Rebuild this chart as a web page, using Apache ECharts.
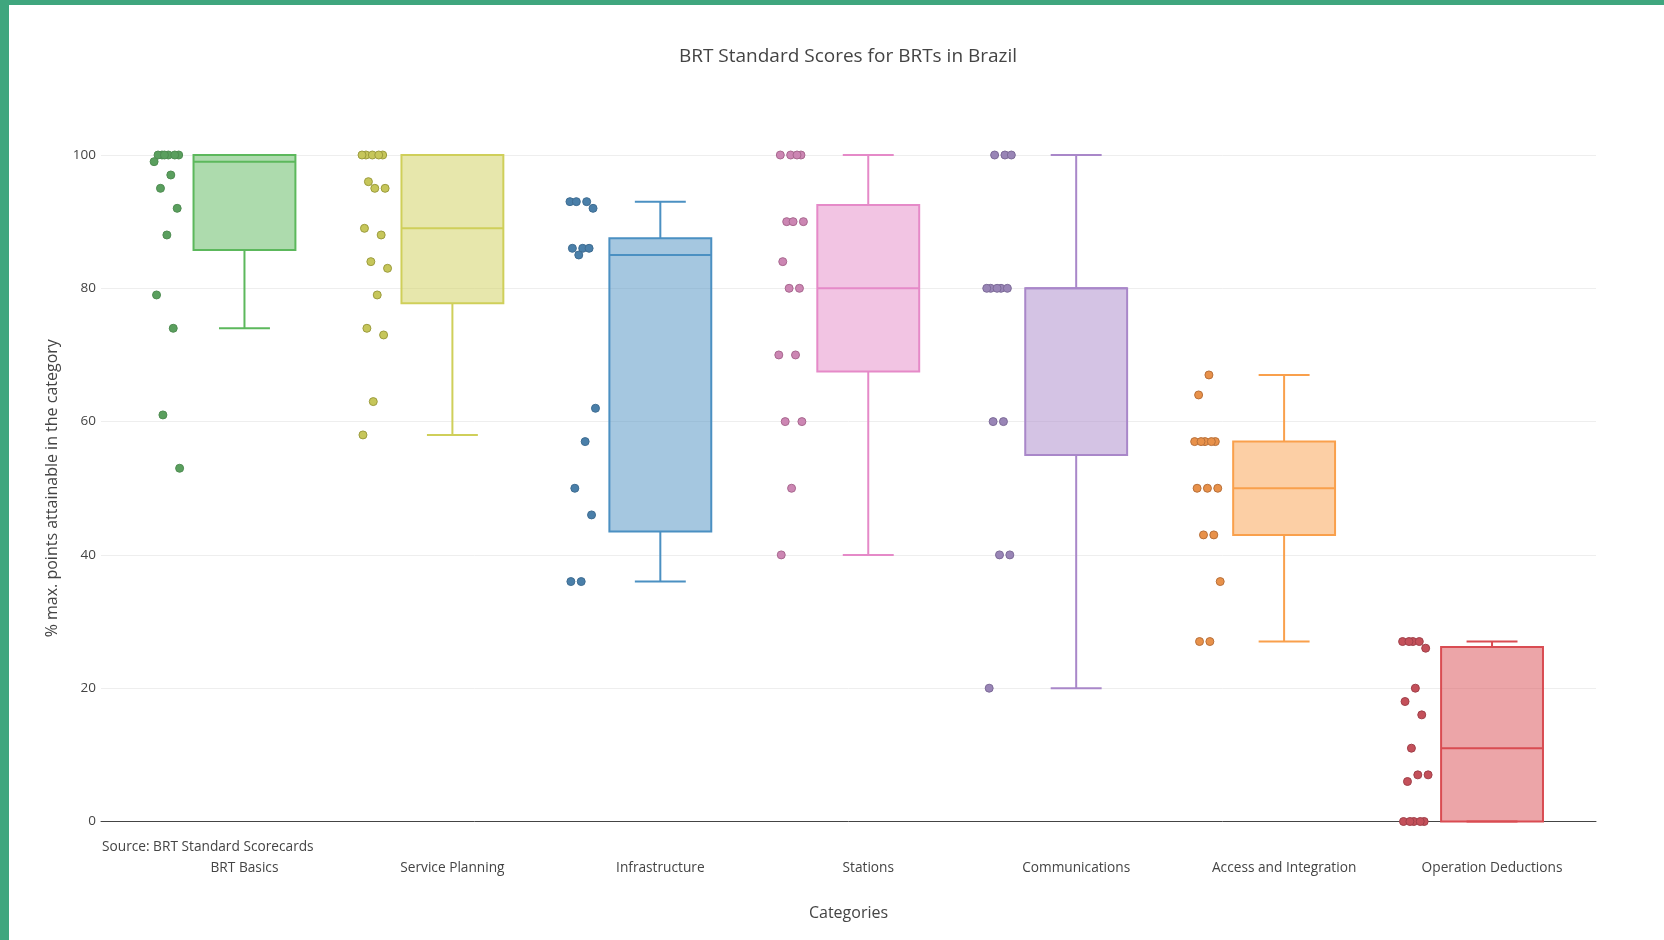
<!DOCTYPE html>
<html>
<head>
<meta charset="utf-8">
<title>BRT Standard Scores for BRTs in Brazil</title>
<script src="https://cdn.jsdelivr.net/npm/echarts@6/dist/echarts.min.js"></script>
<style>
  html, body { margin: 0; padding: 0; background: #fff; }
  #chart { width: 1664px; height: 940px; }
</style>
</head>
<body>
<div id="chart"></div>
<script>
// Scorecard categories
const categories = [
  'BRT Basics', 'Service Planning', 'Infrastructure', 'Stations',
  'Communications', 'Access and Integration', 'Operation Deductions'
];

// Individual corridor scores (% of max. points) per category
const brtBasics = [100, 100, 100, 100, 100, 100, 99, 97, 95, 92, 88, 79, 74, 61, 53];
const servicePlanning = [100, 100, 100, 100, 100, 96, 95, 95, 89, 88, 84, 83, 79, 74, 73, 63, 58];
const infrastructure = [93, 93, 93, 92, 86, 86, 86, 85, 62, 57, 50, 46, 36, 36];
const stations = [100, 100, 100, 100, 90, 90, 90, 84, 80, 80, 70, 70, 60, 60, 50, 40];
const communications = [100, 100, 100, 80, 80, 80, 80, 80, 60, 60, 40, 40, 20];
const accessIntegration = [67, 64, 57, 57, 57, 57, 57, 50, 50, 50, 43, 43, 36, 27, 27];
const operationDeductions = [27, 27, 27, 27, 26, 20, 18, 16, 11, 7, 7, 6, 0, 0, 0, 0, 0];

const pointSets = [brtBasics, servicePlanning, infrastructure, stations,
                   communications, accessIntegration, operationDeductions];

// Box statistics per category
const lowerFence = [74, 58, 36, 40, 20, 27, 0];
const q1 = [85.75, 77.75, 43.5, 67.5, 55, 43, 0];
const median = [99, 89, 85, 80, 80, 50, 11];
const q3 = [100, 100, 87.5, 92.5, 80, 57, 26.2];
const upperFence = [100, 100, 93, 100, 100, 67, 27];

// Y-axis ticks
const yTicks = [0, 20, 40, 60, 80, 100];

// Styling
const lineColors = ['#5cb85c', '#cfcf5a', '#4b90c2', '#e58ac8', '#a987c9', '#f9a04c', '#d94c52'];
const fillColors = ['rgba(92,184,92,0.5)', 'rgba(207,207,90,0.5)', 'rgba(75,144,194,0.5)',
                    'rgba(229,138,200,0.5)', 'rgba(169,135,201,0.5)', 'rgba(249,160,76,0.5)',
                    'rgba(217,76,82,0.5)'];
const dotColors = ['#5a9f5e', '#c6c65a', '#4a7fa9', '#cc86b3', '#9985b6', '#e8914a', '#c4505a'];
const dotBorders = ['#4f8c52', '#9c9c3e', '#3f6d92', '#a8688f', '#7d6b98', '#b8703a', '#a0404a'];

const BOX_W = 0.49;       // box width in category units
const POINT_POS = -0.372; // point cloud offset from box centre
const JITTER = 0.13;      // spread of point cloud

// Box data: [categoryIndex, lower, q1, median, q3, upper]
const boxData = categories.map((c, i) => [i, lowerFence[i], q1[i], median[i], q3[i], upperFence[i]]);

// Deterministic jitter for the point clouds
function jitterFor(k) {
  const f = (k * 0.6180339887 + 0.31) % 1;
  return (f - 0.5) * JITTER;
}

const scatterSeries = pointSets.map((vals, i) => ({
  type: 'scatter',
  name: categories[i],
  clip: false,
  z: 5,
  symbolSize: 8,
  itemStyle: { color: dotColors[i], borderColor: dotBorders[i], borderWidth: 1, opacity: 1 },
  data: vals.map((v, k) => [i + POINT_POS + jitterFor(k + i * 3), v])
}));

const chart = echarts.init(document.getElementById('chart'), null, { renderer: 'canvas' });

chart.setOption({
  animation: false,
  backgroundColor: '#ffffff',
  textStyle: { fontFamily: '"Open Sans", "Noto Sans", sans-serif' },
  title: {
    text: 'BRT Standard Scores for BRTs in Brazil',
    left: 843,
    top: 42,
    textAlign: 'center',
    textStyle: { fontSize: 19, fontWeight: 'normal', color: '#444', fontFamily: '"Open Sans", sans-serif' }
  },
  grid: { left: 101, right: 68, top: 155, bottom: 118.5, containLabel: false },
  xAxis: {
    type: 'value',
    min: -0.69,
    max: 6.5,
    name: 'Categories',
    nameLocation: 'middle',
    nameGap: 84,
    nameTextStyle: { fontSize: 16, color: '#444' },
    axisLine: { show: true, lineStyle: { color: '#444', width: 1 } },
    axisTick: { show: false },
    splitLine: { show: false },
    axisLabel: {
      customValues: categories.map((c, i) => i),
      formatter: v => categories[Math.round(v)] || '',
      color: '#444',
      fontSize: 13.7,
      margin: 40
    }
  },
  yAxis: {
    type: 'value',
    min: 0,
    max: 100,
    interval: 20,
    name: '% max. points attainable in the category',
    nameLocation: 'middle',
    nameGap: 41,
    nameTextStyle: { fontSize: 16, color: '#444' },
    axisLine: { show: false },
    axisTick: { show: false },
    splitLine: { show: true, lineStyle: { color: '#eeeeee', width: 1 } },
    axisLabel: {
      customValues: yTicks,
      color: '#444',
      fontSize: 13.5,
      margin: 5
    }
  },
  graphic: [
    { type: 'rect', left: 0, top: 0, shape: { width: 1664, height: 5 }, style: { fill: '#3fa67e' }, z: 100 },
    { type: 'rect', left: 0, top: 0, shape: { width: 9, height: 940 }, style: { fill: '#3fa67e' }, z: 100 },
    {
      type: 'text', left: 102, top: 840,
      style: { text: 'Source: BRT Standard Scorecards', fontSize: 13.7, fill: '#444', fontFamily: '"Open Sans", sans-serif' }
    }
  ],
  series: [
    {
      type: 'custom',
      name: 'boxes',
      z: 3,
      data: boxData,
      encode: { x: 0, y: [1, 2, 3, 4, 5] },
      renderItem: function (params, api) {
        const x = api.value(0);
        const idx = Math.round(x);
        const half = api.size([BOX_W, 0])[0] / 2;
        const capHalf = half / 2;
        const pLo = api.coord([x, api.value(1)]);
        const pQ1 = api.coord([x, api.value(2)]);
        const pMed = api.coord([x, api.value(3)]);
        const pQ3 = api.coord([x, api.value(4)]);
        const pHi = api.coord([x, api.value(5)]);
        const cx = pQ1[0];
        const stroke = { stroke: lineColors[idx], lineWidth: 2, fill: null };
        return {
          type: 'group',
          children: [
            { type: 'line', shape: { x1: cx, y1: pQ3[1], x2: cx, y2: pHi[1] }, style: stroke },
            { type: 'line', shape: { x1: cx, y1: pQ1[1], x2: cx, y2: pLo[1] }, style: stroke },
            { type: 'line', shape: { x1: cx - capHalf, y1: pHi[1], x2: cx + capHalf, y2: pHi[1] }, style: stroke },
            { type: 'line', shape: { x1: cx - capHalf, y1: pLo[1], x2: cx + capHalf, y2: pLo[1] }, style: stroke },
            {
              type: 'rect',
              shape: { x: cx - half, y: pQ3[1], width: half * 2, height: pQ1[1] - pQ3[1] },
              style: { fill: fillColors[idx], stroke: lineColors[idx], lineWidth: 2 }
            },
            { type: 'line', shape: { x1: cx - half, y1: pMed[1], x2: cx + half, y2: pMed[1] }, style: stroke }
          ]
        };
      }
    }
  ].concat(scatterSeries)
});
</script>
</body>
</html>
